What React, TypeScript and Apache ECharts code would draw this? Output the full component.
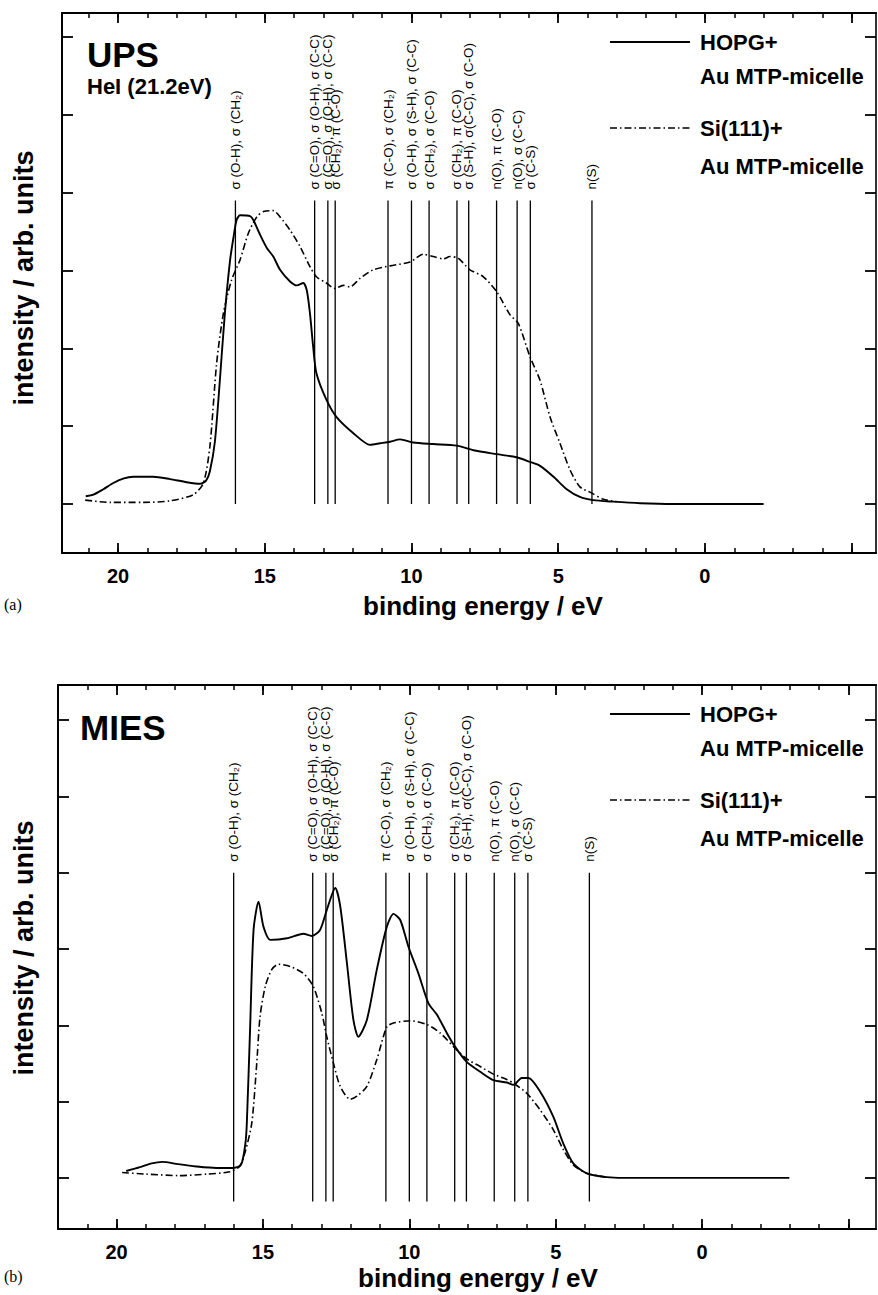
import React, { useEffect, useRef } from "react";
import * as echarts from "echarts";

const FONT = '"Liberation Sans", Arial, Helvetica, sans-serif';

// ---- Data (binding energy eV, intensity arb. units) ----
const upsHopg: [number, number][] = [
  [21.1, 0.1], [20.84, 0.12], [20.5, 0.19], [20.16, 0.27], [19.8, 0.33], [19.48, 0.35],
  [18.8, 0.35], [18.23, 0.32], [17.66, 0.28], [17.2, 0.26], [17.0, 0.3], [16.87, 0.42],
  [16.7, 0.8], [16.53, 1.59], [16.36, 2.45], [16.18, 3.14], [16.06, 3.44], [15.96, 3.65],
  [15.84, 3.71], [15.5, 3.7], [15.39, 3.65], [15.16, 3.46], [14.93, 3.29], [14.71, 3.18],
  [14.48, 3.01], [14.14, 2.86], [13.91, 2.81], [13.69, 2.84], [13.57, 2.75], [13.46, 2.45],
  [13.35, 2.02], [13.24, 1.68], [12.9, 1.34], [12.56, 1.12], [11.98, 0.91], [11.41, 0.76],
  [11.07, 0.78], [10.73, 0.8], [10.39, 0.83], [9.94, 0.79], [9.26, 0.77], [8.46, 0.75],
  [7.89, 0.69], [7.1, 0.64], [6.42, 0.6], [5.96, 0.54], [5.62, 0.49], [5.16, 0.35],
  [4.71, 0.19], [4.26, 0.09], [3.81, 0.05], [3.13, 0.03], [2.21, 0.01], [1.08, 0.0], [-2.0, 0.0],
];
const upsSi: [number, number][] = [
  [21.12, 0.05], [20.27, 0.02], [19.13, 0.02], [18.23, 0.04], [17.43, 0.12], [17.09, 0.27],
  [16.87, 0.74], [16.64, 1.81], [16.41, 2.45], [16.13, 2.88], [15.84, 3.14], [15.56, 3.48],
  [15.27, 3.69], [15.04, 3.76], [14.71, 3.77], [14.48, 3.69], [14.14, 3.52], [13.8, 3.31],
  [13.46, 3.05], [13.24, 2.92], [12.9, 2.84], [12.61, 2.77], [12.33, 2.81], [12.1, 2.79],
  [11.75, 2.9], [11.3, 3.01], [10.73, 3.06], [10.05, 3.11], [9.6, 3.21], [9.26, 3.18],
  [8.91, 3.15], [8.69, 3.18], [8.41, 3.16], [8.01, 3.01], [7.55, 2.92], [7.1, 2.73],
  [6.64, 2.43], [6.36, 2.32], [5.96, 1.89], [5.62, 1.59], [5.28, 1.12], [4.94, 0.78],
  [4.6, 0.44], [4.26, 0.22], [3.86, 0.14], [3.46, 0.06], [3.01, 0.03],
];
const miesHopg: [number, number][] = [
  [19.67, 0.09], [19.2, 0.14], [18.8, 0.19], [18.43, 0.21], [17.9, 0.18], [17.28, 0.15],
  [16.6, 0.13], [16.04, 0.13], [15.75, 0.17], [15.6, 0.45], [15.55, 0.72], [15.44, 1.94],
  [15.32, 3.25], [15.15, 3.62], [14.98, 3.29], [14.75, 3.12], [14.18, 3.14], [13.62, 3.2],
  [13.33, 3.17], [13.05, 3.25], [12.82, 3.51], [12.53, 3.8], [12.36, 3.56], [12.13, 2.81],
  [11.91, 2.07], [11.74, 1.85], [11.45, 2.07], [11.11, 2.73], [10.77, 3.29], [10.54, 3.46],
  [10.31, 3.38], [10.03, 3.03], [9.69, 2.68], [9.35, 2.29], [9.06, 2.14], [8.72, 1.9],
  [8.44, 1.72], [8.04, 1.52], [7.58, 1.39], [7.13, 1.28], [6.67, 1.25], [6.44, 1.22],
  [6.16, 1.31], [5.93, 1.31], [5.53, 1.13], [5.08, 0.8], [4.74, 0.45], [4.4, 0.19],
  [3.94, 0.06], [3.25, 0.01], [2.69, 0.0], [-2.98, 0.0],
];
const miesSi: [number, number][] = [
  [19.81, 0.07], [19.0, 0.05], [17.86, 0.03], [16.9, 0.05], [16.13, 0.08], [15.8, 0.15],
  [15.6, 0.35], [15.38, 0.72], [15.21, 1.51], [15.1, 2.11], [14.92, 2.51], [14.7, 2.73],
  [14.47, 2.8], [14.07, 2.77], [13.62, 2.68], [13.28, 2.51], [12.99, 2.16], [12.82, 1.85],
  [12.59, 1.5], [12.36, 1.2], [12.02, 1.03], [11.79, 1.07], [11.45, 1.2], [11.11, 1.55],
  [10.77, 1.98], [10.54, 2.03], [9.97, 2.06], [9.4, 2.01], [8.95, 1.9], [8.44, 1.7],
  [8.04, 1.56], [7.58, 1.46], [7.13, 1.36], [6.67, 1.29], [6.44, 1.24], [5.99, 1.11],
  [5.53, 0.89], [5.08, 0.63], [4.74, 0.37], [4.4, 0.17], [3.94, 0.06], [3.3, 0.01],
];

const assignEnergies = [16.0, 13.3, 12.85, 12.6, 10.8, 10.0, 9.4, 8.45, 8.05, 7.1, 6.4, 5.95, 3.85];
const assignLabels = [
  "σ (O-H), σ (CH₂)",
  "σ (C=O), σ (O-H), σ (C-C)",
  "σ (C=O), σ (O-H), σ (C-C)",
  "σ (CH₂), π (C-O)",
  "π (C-O), σ (CH₂)",
  "σ (O-H), σ (S-H), σ (C-C)",
  "σ (CH₂), σ (C-O)",
  "σ (CH₂), π (C-O)",
  "σ (S-H), σ(C-C), σ (C-O)",
  "n(O), π (C-O)",
  "n(O), σ (C-C)",
  "σ (C-S)",
  "n(S)",
];

const xMajorTicks = [-5, 0, 5, 10, 15, 20];
const xTickLabels = [0, 5, 10, 15, 20];
const xMinorTicks = [-5, -4, -3, -2, -1, 0, 1, 2, 3, 4, 5, 6, 7, 8, 9, 10, 11, 12, 13, 14, 15, 16, 17, 18, 19, 20, 21];
const yTicks = [0, 1, 2, 3, 4, 5, 6];

const seriesNames = ["HOPG+ Au MTP-micelle", "Si(111)+ Au MTP-micelle"];

const DASHDOT = [7, 3, 1.5, 3];

function xAxesFor(gridIndex: number, min: number, max: number) {
  const base = { type: "value", gridIndex, min, max, inverse: true, splitLine: { show: false } };
  return [
    {
      ...base, position: "bottom",
      axisLine: { show: true, onZero: false, lineStyle: { color: "#000", width: 2.2 } },
      axisTick: { show: true, inside: true, length: 10, customValues: xMajorTicks, lineStyle: { color: "#000", width: 1.8 } },
      axisLabel: { show: true, customValues: xTickLabels, color: "#000", fontSize: 20, fontWeight: "bold", fontFamily: FONT, margin: 13 },
    },
    {
      ...base, position: "bottom",
      axisLine: { show: false, onZero: false },
      axisTick: { show: true, inside: true, length: 5, customValues: xMinorTicks, lineStyle: { color: "#000", width: 1.5 } },
      axisLabel: { show: false },
    },
    {
      ...base, position: "top",
      axisLine: { show: true, onZero: false, lineStyle: { color: "#000", width: 2 } },
      axisTick: { show: true, inside: true, length: 10, customValues: xMajorTicks, lineStyle: { color: "#000", width: 1.8 } },
      axisLabel: { show: false },
    },
    {
      ...base, position: "top",
      axisLine: { show: false, onZero: false },
      axisTick: { show: true, inside: true, length: 5, customValues: xMinorTicks, lineStyle: { color: "#000", width: 1.5 } },
      axisLabel: { show: false },
    },
  ];
}

function yAxesFor(gridIndex: number, min: number, max: number) {
  const base = { type: "value", gridIndex, min, max, splitLine: { show: false }, axisLabel: { show: false } };
  return [
    {
      ...base, position: "left",
      axisLine: { show: true, onZero: false, lineStyle: { color: "#000", width: 2 } },
      axisTick: { show: true, inside: true, length: 11, customValues: yTicks, lineStyle: { color: "#000", width: 1.8 } },
    },
    {
      ...base, position: "right",
      axisLine: { show: true, onZero: false, lineStyle: { color: "#000", width: 1.6 } },
      axisTick: { show: true, inside: true, length: 11, customValues: yTicks, lineStyle: { color: "#000", width: 1.8 } },
    },
  ];
}

function assignSeries(xAxisIndex: number, yAxisIndex: number, yTop: number, yBot: number) {
  return {
    type: "custom",
    xAxisIndex,
    yAxisIndex,
    clip: false,
    silent: true,
    z: 1,
    data: assignEnergies.map((e) => [e, yTop]),
    renderItem: (params: any, api: any) => {
      const e = api.value(0);
      const top = api.coord([e, api.value(1)]);
      const bot = api.coord([e, yBot]);
      return {
        type: "group",
        children: [
          { type: "line", shape: { x1: bot[0], y1: bot[1], x2: top[0], y2: top[1] }, style: { stroke: "#000", lineWidth: 1.3 } },
          {
            type: "text", x: top[0], y: top[1] - 11, rotation: Math.PI / 2,
            style: { text: assignLabels[params.dataIndex], fontSize: 13.5, fontFamily: FONT, fill: "#000", align: "left", verticalAlign: "middle" },
          },
        ],
      };
    },
  };
}

function curve(name: string, data: [number, number][], xAxisIndex: number, yAxisIndex: number, dashed: boolean) {
  return {
    type: "line", name, data, xAxisIndex, yAxisIndex, showSymbol: false, symbol: "none", smooth: 0.25, z: 3,
    lineStyle: { color: "#000", width: dashed ? 1.6 : 1.9, type: dashed ? DASHDOT : "solid" },
  };
}

function legendGraphics(offsetY: number) {
  const t = (text: string, y: number) => ({
    type: "text", x: 700, y: y + offsetY,
    style: { text, fontSize: 22, fontWeight: "bold", fontFamily: FONT, fill: "#000", align: "left", verticalAlign: "middle" },
  });
  return [
    { type: "line", shape: { x1: 610, y1: 42 + offsetY, x2: 690, y2: 42 + offsetY }, style: { stroke: "#000", lineWidth: 1.8 } },
    t("HOPG+", 42),
    t("Au MTP-micelle", 76),
    { type: "line", shape: { x1: 610, y1: 128 + offsetY, x2: 690, y2: 128 + offsetY }, style: { stroke: "#000", lineWidth: 1.6, lineDash: DASHDOT } },
    t("Si(111)+", 128),
    t("Au MTP-micelle", 166),
  ];
}

function titleText(text: string, x: number, y: number, size: number, rotate = 0, align = "center") {
  return {
    type: "text", x, y, rotation: rotate,
    style: { text, fontSize: size, fontWeight: "bold", fontFamily: FONT, fill: "#000", align, verticalAlign: "middle" },
  };
}

export default function App() {
  const ref = useRef<HTMLDivElement>(null);
  useEffect(() => {
    if (!ref.current) return;
    const chart = echarts.init(ref.current, null, { renderer: "svg" });
    const option: any = {
      animation: false,
      backgroundColor: "#fff",
      grid: [
        { left: 62, top: 13, width: 814, height: 540, containLabel: false, outerBoundsMode: "none" },
        { left: 58, top: 685, width: 818, height: 544, containLabel: false, outerBoundsMode: "none" },
      ],
      xAxis: [...xAxesFor(0, -5.83, 21.91), ...xAxesFor(1, -5.94, 22.0)],
      yAxis: [...yAxesFor(0, -0.63, 6.31), ...yAxesFor(1, -0.67, 6.46)],
      series: [
        assignSeries(0, 0, 3.9, 0),
        curve(seriesNames[0], upsHopg, 0, 0, false),
        curve(seriesNames[1], upsSi, 0, 0, true),
        assignSeries(4, 2, 4.0, -0.31),
        curve(seriesNames[0], miesHopg, 4, 2, false),
        curve(seriesNames[1], miesSi, 4, 2, true),
      ],
      graphic: [
        titleText("UPS", 87, 54, 35, 0, "left"),
        titleText("HeI (21.2eV)", 87, 86, 22, 0, "left"),
        titleText("MIES", 80, 727, 35, 0, "left"),
        ...legendGraphics(0),
        ...legendGraphics(672),
        titleText("intensity / arb. units", 24, 278, 27, Math.PI / 2),
        titleText("intensity / arb. units", 24, 948, 27, Math.PI / 2),
        titleText("binding energy / eV", 483, 606, 26),
        titleText("binding energy / eV", 478, 1278, 26),
        { type: "text", x: 4, y: 604, style: { text: "(a)", fontSize: 16, fontFamily: '"Liberation Serif", "Times New Roman", serif', fill: "#000", align: "left", verticalAlign: "middle" } },
        { type: "text", x: 4, y: 1276, style: { text: "(b)", fontSize: 16, fontFamily: '"Liberation Serif", "Times New Roman", serif', fill: "#000", align: "left", verticalAlign: "middle" } },
      ],
    };
    chart.setOption(option);
    return () => chart.dispose();
  }, []);
  return <div ref={ref} style={{ position: "absolute", left: 0, top: 0, width: 878, height: 1295 }} />;
}
